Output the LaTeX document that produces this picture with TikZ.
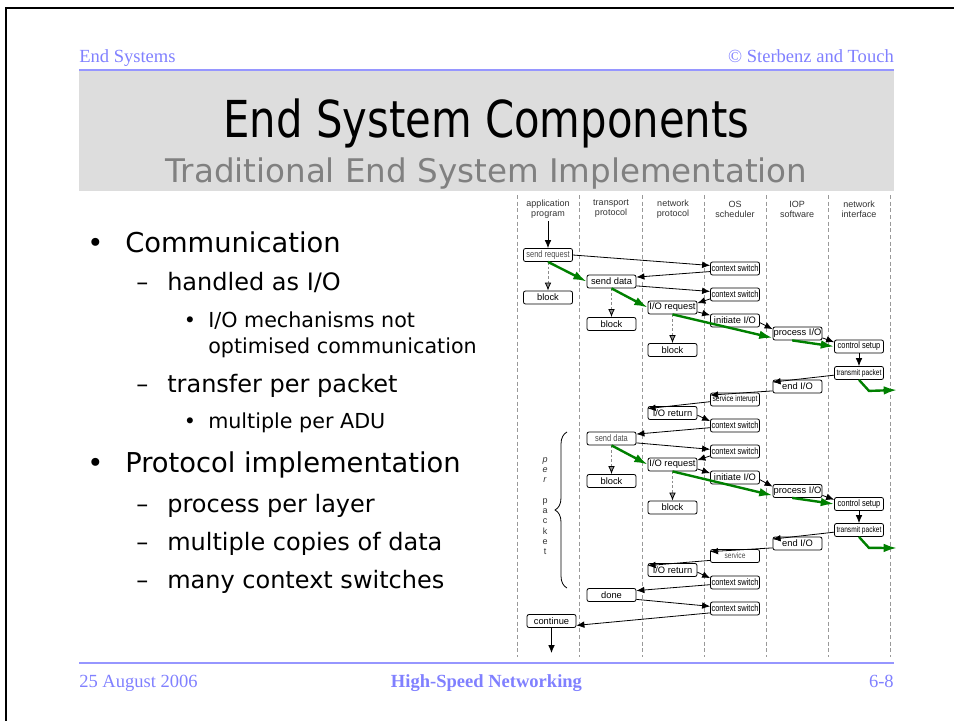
\documentclass[tikz,border=0pt]{standalone}
\usepackage{fontspec}
\setmainfont{DejaVu Sans}
\newfontfamily\titlefont[FakeStretch=0.82]{DejaVu Sans}
\newfontfamily\figfont{Liberation Sans}
\newfontfamily\fignarrow[FakeStretch=0.8]{Liberation Sans}
\newfontfamily\hdrfont{Liberation Serif}
\usepackage{tikz}
\usetikzlibrary{arrows.meta,decorations.pathreplacing}
\definecolor{hdrblue}{RGB}{128,128,255}
\definecolor{ruleblue}{RGB}{150,150,255}
\definecolor{titlegray}{RGB}{221,221,221}
\definecolor{subgray}{RGB}{128,128,128}
\definecolor{flowgreen}{RGB}{0,128,0}

\begin{document}
\begin{tikzpicture}[x=0.75pt, y=-0.75pt,
  hdr/.style={font={\hdrfont\fontsize{13.9}{16}\selectfont}, text=hdrblue, inner sep=0pt},
  lvlone/.style={font={\fontsize{20.5}{24}\selectfont}, inner sep=0pt},
  lvltwo/.style={font={\fontsize{18}{21}\selectfont}, inner sep=0pt},
  lvlthree/.style={font={\fontsize{15.5}{18}\selectfont}, inner sep=0pt},
  box/.style={draw, rounded corners=1.5pt, line width=0.6pt, minimum width=36.75pt, minimum height=9.75pt, inner sep=0.5pt, font={\figfont\fontsize{7}{7.5}\selectfont}},
  nbox/.style={box, font={\fignarrow\fontsize{7}{7.5}\selectfont}},
  sbox/.style={box, font={\fignarrow\fontsize{6.2}{7}\selectfont}},
  colhead/.style={align=center, text=black!80, inner sep=2pt, font={\figfont\fontsize{6.75}{7.5}\selectfont}},
  flow/.style={-{Latex[length=6pt,width=5pt]}, line width=0.6pt},
  wait/.style={-{Latex[length=6pt,width=5pt,color=black]}, line width=0.6pt, color=black!45, dash pattern=on 2pt off 1.5pt},
  data/.style={-{Latex[length=10pt,width=6.5pt]}, line width=1.8pt, color=flowgreen},
  lane/.style={black!40, line width=0.5pt, dash pattern=on 3pt off 2pt}
]
\useasboundingbox (0,0) rectangle (954,721);

% slide frame
\draw[line width=2.2pt] (6,721) -- (6,8) -- (954,8);
\node[hdr, anchor=base west] (sect) at (79,62) {End Systems};
\node[hdr, anchor=base east] (copy) at (894,62) {© Sterbenz and Touch};
\draw[ruleblue, line width=1.2pt] (79,70) -- (894,70);
\fill[titlegray] (79,71) rectangle (894,191);
\node[anchor=base, inner sep=0pt, font={\titlefont\fontsize{38.2}{40}\selectfont}] (title) at (486.5,137) {End System Components};
\node[anchor=base, inner sep=0pt, text=subgray, font={\fontsize{24.4}{26}\selectfont}] (subtitle) at (486.5,182) {Traditional End System Implementation};
\draw[ruleblue, line width=1.2pt] (79,663) -- (894,663);
\node[hdr, anchor=base west] (date) at (79,687) {25 August 2006};
\node[hdr, anchor=base, font={\hdrfont\bfseries\fontsize{13.9}{16}\selectfont}] (course) at (486.5,687) {High-Speed Networking};
\node[hdr, anchor=base east] (page) at (894,687) {6-8};

% bullets
\node[lvlone, anchor=base] (d1) at (95.5,252) {•};
\node[lvlone, anchor=base west] (b1) at (125,252) {Communication};
\node[lvltwo, anchor=base west] (d1a) at (136,290) {–};
\node[lvltwo, anchor=base west] (b1a) at (167,290) {handled as I/O};
\node[lvlthree, anchor=base] (d1a1) at (190,327) {•};
\node[lvlthree, anchor=base west] (b1a1) at (208,327) {I/O mechanisms not};
\node[lvlthree, anchor=base west] (b1a1x) at (208,353) {optimised communication};
\node[lvltwo, anchor=base west] (d1b) at (136,392) {–};
\node[lvltwo, anchor=base west] (b1b) at (167,392) {transfer per packet};
\node[lvlthree, anchor=base] (d1b1) at (190,428) {•};
\node[lvlthree, anchor=base west] (b1b1) at (208,428) {multiple per ADU};
\node[lvlone, anchor=base] (d2) at (95.5,472) {•};
\node[lvlone, anchor=base west] (b2) at (125,472) {Protocol implementation};
\node[lvltwo, anchor=base west] (d2a) at (136,512) {–};
\node[lvltwo, anchor=base west] (b2a) at (167,512) {process per layer};
\node[lvltwo, anchor=base west] (d2b) at (136,550) {–};
\node[lvltwo, anchor=base west] (b2b) at (167,550) {multiple copies of data};
\node[lvltwo, anchor=base west] (d2c) at (136,588) {–};
\node[lvltwo, anchor=base west] (b2c) at (167,588) {many context switches};

% lanes
\foreach \x in {517,579.5,642,704,766.5,828,890}
  \draw[lane] (\x,195) -- (\x,657);
\node[colhead] (hApp) at (548,209) {application\\program};
\node[colhead] (hTr) at (611,209) {transport\\protocol};
\node[colhead] (hNet) at (673,209) {network\\protocol};
\node[colhead] (hOS) at (735,209) {OS\\scheduler};
\node[colhead] (hIOP) at (797,209) {IOP\\software};
\node[colhead] (hNI) at (859,209) {network\\interface};

\node[nbox, text=black!70] (sreq) at (548,255) {send request};
\node[box] (blkA) at (548,297.5) {block};
\node[box] (sdata1) at (611.5,281.5) {send data};
\node[box] (blkT1) at (611.5,324) {block};
\node[box] (ioreq1) at (672.5,307.5) {I/O request};
\node[box] (blkN1) at (672.5,350) {block};
\node[nbox] (cs1) at (735,268.5) {context switch};
\node[nbox] (cs2) at (735,294.5) {context switch};
\node[box] (init1) at (735,320.5) {initiate I/O};
\node[box] (proc1) at (797.5,333.5) {process I/O};
\node[nbox] (ctrl1) at (859,346.5) {control setup};
\node[sbox] (tx1) at (859,373) {transmit packet};
\node[box] (endio1) at (797.5,386.5) {end I/O};
\node[sbox] (svc1) at (735,399.5) {service interupt};
\node[box] (iortn1) at (672.5,413) {I/O return};
\node[nbox] (cs3) at (735,425.5) {context switch};
\node[nbox, text=black!70] (sdata2) at (611.5,438.5) {send data};
\node[nbox] (cs4) at (735,451.5) {context switch};
\node[box] (ioreq2) at (672.5,464.5) {I/O request};
\node[box] (blkT2) at (611.5,481) {block};
\node[box] (init2) at (735,477.5) {initiate I/O};
\node[box] (proc2) at (797.5,491) {process I/O};
\node[box] (blkN2) at (672.5,507.5) {block};
\node[nbox] (ctrl2) at (859,504) {control setup};
\node[sbox] (tx2) at (859,530) {transmit packet};
\node[box] (endio2) at (797.5,543.5) {end I/O};
\node[sbox, text=black!70] (svc2) at (735,556) {service};
\node[box] (iortn2) at (672.5,570) {I/O return};
\node[nbox] (cs5) at (735,582.5) {context switch};
\node[box] (done) at (611.5,595) {done};
\node[nbox] (cs6) at (735,608.5) {context switch};
\node[box] (cont) at (551.5,621) {continue};
\coordinate (contEnd) at (551.5,653);
\coordinate (out1) at (897,390);
\coordinate (out2) at (897,548);

% per packet
\coordinate (pkTop) at (567,432);
\coordinate (pkBot) at (567,588);
\draw[decorate, decoration={brace, amplitude=9pt}, line width=0.6pt] (pkBot) -- (pkTop);
\node[colhead, font={\figfont\fontsize{6.75}{7.7}\selectfont}] (pkLbl) at (545,506)
  {\textit{p}\\\textit{e}\\\textit{r}\\[7.7pt]p\\a\\c\\k\\e\\t};

\path[wait]
  (sreq.south) edge (blkA.north)
  (sdata1.south) edge (blkT1.north)
  (ioreq1.south) edge (blkN1.north)
  (sdata2.south) edge (blkT2.north)
  (ioreq2.south) edge (blkN2.north);
\path[flow]
  (hApp.south) edge (sreq.north)
  (sreq.east) edge (cs1.173)
  (cs1.187) edge (sdata1.10)
  (sdata1.-10) edge (cs2.173)
  (cs2.190) edge (ioreq1.10)
  (ioreq1.-10) edge (init1.168)
  (init1.-5) edge (proc1.170)
  (proc1.-10) edge (ctrl1.170)
  (ctrl1.south) edge (tx1.north)
  (tx1.185) edge (endio1.170)
  (endio1.190) edge (svc1.170)
  (svc1.185) edge (iortn1.170)
  (iortn1.-5) edge (cs3.170)
  (cs3.185) edge (sdata2.10)
  (sdata2.-10) edge (cs4.175)
  (cs4.190) edge (ioreq2.10)
  (ioreq2.-10) edge (init2.170)
  (init2.-5) edge (proc2.170)
  (proc2.-10) edge (ctrl2.170)
  (ctrl2.south) edge (tx2.north)
  (tx2.185) edge (endio2.170)
  (endio2.190) edge (svc2.170)
  (svc2.190) edge (iortn2.170)
  (iortn2.-5) edge (cs5.170)
  (cs5.185) edge (done.10)
  (done.-10) edge (cs6.175)
  (cs6.190) edge (cont.-10)
  (cont.south) edge (contEnd);
\path[data]
  (sreq.south) edge (sdata1.west)
  (sdata1.south) edge (ioreq1.west)
  (ioreq1.south) edge (proc1.190)
  ([xshift=-4pt]proc1.south) edge (ctrl1.west)
  (sdata2.south) edge (ioreq2.west)
  (ioreq2.south) edge (proc2.190)
  ([xshift=-4pt]proc2.south) edge (ctrl2.west);
\draw[data] (tx1.south) -- ++(10,11) -- (out1);
\draw[data] (tx2.south) -- ++(10,11) -- (out2);
\end{tikzpicture}
\end{document}
